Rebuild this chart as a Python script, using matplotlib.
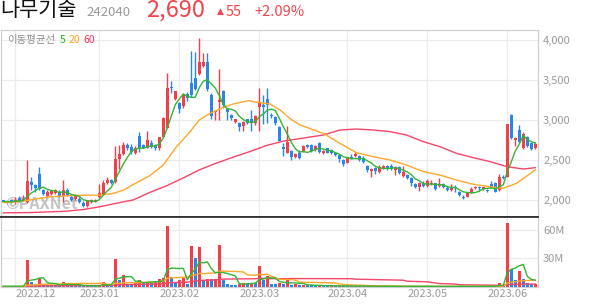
import numpy as np
import pandas as pd
import matplotlib
matplotlib.use("Agg")
import matplotlib.pyplot as plt

plt.rcParams['font.family'] = ['Noto Sans CJK KR', 'DejaVu Sans']

# ---------------- data ----------------
holidays = ['2022-12-30', '2023-01-23', '2023-01-24', '2023-03-01',
            '2023-05-01', '2023-05-05', '2023-05-29', '2023-06-06']
all_days = pd.bdate_range('2022-11-28', '2023-06-13')
dates = all_days[~all_days.isin(pd.to_datetime(holidays))]

opens = [1990, 1960, 2000, 1975, 2025, 1992, 1971, 2221, 2179, 2325,
         2125, 2046, 2067, 2083, 2100, 2042, 2117, 2033, 2012, 2012,
         1962, 1917, 1971, 1975, 2033, 2075, 2208, 2242, 2221, 2512,
         2567, 2679, 2658, 2583, 2792, 2679, 2650, 2710, 2681, 2640,
         2785, 2898, 3410, 3256, 3202, 3169, 3315, 3452, 3515, 3565,
         3673, 3719, 3306, 3090, 3215, 3355, 3127, 3056, 2973, 2952,
         2919, 3002, 3010, 2960, 3152, 3185, 3256, 3060, 3027, 2908,
         2652, 2585, 2602, 2535, 2581, 2598, 2681, 2681, 2619, 2710,
         2577, 2640, 2619, 2585, 2556, 2494, 2460, 2535, 2544, 2544,
         2523, 2423, 2360, 2398, 2348, 2390, 2423, 2423, 2369, 2410,
         2294, 2306, 2265, 2194, 2160, 2210, 2173, 2190, 2202, 2173,
         2190, 2148, 2119, 2160, 2098, 2035, 2035, 2085, 2140, 2160,
         2127, 2119, 2190, 2210, 2119, 2285, 2285, 3056, 2744, 2869,
         2640, 2777, 2702, 2640]
highs = [1995, 1978, 2005, 2033, 2045, 2054, 2500, 2283, 2200, 2408,
         2137, 2117, 2125, 2130, 2117, 2242, 2150, 2054, 2075, 2033,
         1983, 2000, 2008, 2012, 2200, 2242, 2283, 2262, 2667, 2679,
         2721, 2708, 2692, 2667, 2846, 2700, 2858, 2744, 2700, 2785,
         3027, 3577, 3485, 3360, 3223, 3327, 3348, 3856, 3848, 4015,
         3827, 3827, 3327, 3119, 3627, 3369, 3140, 3069, 3010, 2973,
         2985, 3010, 3115, 3056, 3390, 3306, 3390, 3080, 3044, 2917,
         2702, 2919, 2623, 2583, 2623, 2680, 2700, 2694, 2680, 2723,
         2625, 2648, 2630, 2598, 2569, 2502, 2535, 2569, 2598, 2556,
         2544, 2431, 2390, 2410, 2431, 2431, 2431, 2440, 2419, 2423,
         2419, 2319, 2285, 2210, 2223, 2231, 2252, 2244, 2210, 2265,
         2202, 2169, 2194, 2181, 2106, 2056, 2085, 2152, 2173, 2169,
         2160, 2127, 2231, 2223, 2319, 2306, 2944, 3069, 2785, 2931,
         2840, 2794, 2710, 2723]
lows = [1970, 1955, 1960, 1950, 1970, 1983, 1958, 2125, 2096, 2117,
        2054, 2033, 2054, 2075, 2033, 1971, 2042, 1983, 1992, 1958,
        1908, 1908, 1962, 1967, 2025, 2067, 2200, 2200, 2208, 2387,
        2554, 2617, 2567, 2567, 2596, 2638, 2638, 2640, 2620, 2619,
        2777, 2898, 3327, 3240, 3077, 3140, 3235, 3285, 3369, 3556,
        3660, 3360, 3002, 2994, 2994, 3148, 2994, 2994, 2960, 2862,
        2862, 2948, 2862, 2931, 2860, 2944, 2960, 3020, 2931, 2729,
        2546, 2577, 2494, 2515, 2506, 2590, 2650, 2598, 2610, 2585,
        2570, 2577, 2575, 2546, 2473, 2423, 2452, 2502, 2527, 2481,
        2460, 2348, 2285, 2319, 2335, 2381, 2369, 2369, 2306, 2319,
        2285, 2252, 2173, 2140, 2110, 2160, 2160, 2181, 2119, 2160,
        2140, 2106, 2106, 2098, 2048, 2006, 2027, 2077, 2127, 2110,
        2119, 2098, 2140, 2090, 2110, 2256, 2277, 2756, 2669, 2710,
        2627, 2652, 2623, 2631]
closes = [1975, 1972, 1967, 2000, 1983, 2012, 2229, 2179, 2150, 2137,
          2075, 2096, 2108, 2117, 2042, 2117, 2054, 1992, 2054, 1971,
          1917, 1983, 2000, 2000, 2087, 2208, 2242, 2212, 2512, 2567,
          2679, 2650, 2596, 2650, 2650, 2650, 2742, 2660, 2640, 2777,
          3015, 3390, 3390, 3356, 3131, 3319, 3265, 3306, 3377, 3723,
          3715, 3377, 3044, 3106, 3244, 3177, 3098, 3015, 3002, 2910,
          2973, 2960, 2969, 3044, 3223, 3156, 3185, 3040, 2960, 2737,
          2627, 2723, 2527, 2567, 2519, 2669, 2660, 2610, 2669, 2598,
          2610, 2585, 2585, 2556, 2502, 2444, 2527, 2515, 2569, 2494,
          2473, 2369, 2377, 2360, 2410, 2423, 2377, 2377, 2410, 2327,
          2348, 2265, 2202, 2152, 2202, 2173, 2235, 2202, 2131, 2194,
          2152, 2119, 2148, 2140, 2056, 2015, 2077, 2127, 2160, 2148,
          2152, 2106, 2160, 2098, 2285, 2265, 2944, 2765, 2773, 2715,
          2819, 2669, 2635, 2690]
volumes_m = [0.6, 0.4, 0.5, 0.7, 0.5, 0.6, 28.2, 5.3, 2.8, 8.8,
             2.5, 2.0, 1.8, 1.6, 1.4, 5.3, 1.8, 1.5, 1.3, 1.1,
             0.9, 1.0, 0.8, 0.7, 1.6, 5.3, 1.8, 1.5, 29.3, 7.0,
             12.4, 2.8, 2.6, 4.5, 7.0, 4.2, 5.0, 3.5, 6.4, 8.1,
             9.5, 64.0, 10.6, 5.3, 7.0, 10.6, 2.8, 43.0, 30.7, 42.4,
             7.5, 8.1, 7.9, 8.3, 44.0, 7.0, 2.8, 1.8, 1.7, 2.8,
             4.2, 3.9, 4.3, 3.5, 21.9, 7.0, 11.3, 2.8, 2.6, 4.2,
             2.8, 8.8, 1.8, 2.8, 1.8, 1.9, 1.4, 1.3, 1.1, 1.4,
             0.9, 0.8, 1.0, 0.7, 0.9, 0.8, 0.6, 0.7, 0.5, 0.6,
             0.5, 0.7, 0.5, 0.4, 0.5, 0.4, 0.3, 0.4, 0.5, 0.4,
             0.5, 0.3, 0.5, 0.4, 0.5, 0.3, 0.4, 0.3, 0.4, 0.3,
             0.3, 0.4, 0.3, 0.3, 0.4, 0.5, 0.4, 0.6, 0.4, 0.3,
             0.3, 0.4, 0.6, 0.8, 4.2, 1.0, 67.8, 18.7, 7.1, 16.6,
             8.1, 4.2, 2.8, 2.9]

# moving averages (index of trading day, price)
ma20_idx = [0, 3.3, 7.5, 11.7, 15.8, 20, 24.2, 27.5, 30, 32.5, 36.7, 40, 43,
            46.7, 49, 51.7, 55, 57.5, 61.3, 64.2, 66.7, 69.2, 71.7, 74.2, 80,
            84.2, 88.3, 92.5, 96.7, 100.8, 105, 109.2, 113.3, 117.5, 121.7,
            125, 128.3, 133]
ma20_val = [1962, 1970, 2000, 2033, 2046, 2054, 2054, 2075, 2117, 2187, 2300,
            2431, 2640, 2848, 2994, 3077, 3152, 3194, 3235, 3210, 3194, 3119,
            3010, 2931, 2827, 2702, 2585, 2535, 2494, 2431, 2348, 2306, 2244,
            2190, 2160, 2140, 2202, 2369]
ma60_idx = [0, 7.5, 15.8, 20, 24, 28, 32.5, 36.7, 41, 45, 49, 53, 57.5, 61.7,
            65.8, 70, 74.2, 80, 84.2, 88.3, 92.5, 96.7, 100.8, 105, 109.2,
            113.3, 117.5, 121.7, 126, 130, 133]
ma60_val = [1833, 1838, 1854, 1875, 1908, 1950, 1995, 2090, 2175, 2270, 2370,
            2450, 2530, 2600, 2675, 2730, 2762, 2806, 2869, 2881, 2869, 2848,
            2806, 2723, 2660, 2577, 2523, 2473, 2410, 2381, 2398]

price_ticks = [2000, 2500, 3000, 3500, 4000]
vol_ticks = [30, 60]

title_name = "나무기술"
title_code = "242040"
title_price = "2,690"
title_change = "55"
title_pct = "+2.09%"

# ---------------- styling ----------------
W, H = 594, 304
UP = '#f2404b'
DOWN = '#2a86e6'
C5 = '#33b533'
C20 = '#ffa72a'
C60 = '#f5456a'
GRID = '#ececec'
LABEL = '#9a9a9a'

fig = plt.figure(figsize=(W / 100, H / 100), dpi=100)


def fx(x):
    return x / W


def fy(y):
    return 1 - y / H


ax = fig.add_axes([fx(1), fy(217.3), (537.5 - 1) / W, (217.3 - 30) / H])
axv = fig.add_axes([fx(1), fy(286.7), (537.5 - 1) / W, (286.7 - 217.3) / H])

n = len(closes)
x = np.arange(n)
o = np.array(opens, float)
c = np.array(closes, float)
hi = np.array(highs, float)
lo = np.array(lows, float)
up = c >= o
cols = np.where(up, UP, DOWN)

# month start positions
month_pos, month_lab = [], []
for i in range(1, n):
    if dates[i].month != dates[i - 1].month:
        month_pos.append(i)
        month_lab.append(dates[i].strftime('%Y.%m'))

xlim = (-0.575, n - 0.45)

# ---- price panel ----
ax.vlines(x, lo, hi, colors=cols, linewidth=1.0, zorder=3)
body = np.maximum(np.abs(c - o), 10)
ax.bar(x, body, bottom=np.minimum(o, c), width=0.74, color=cols,
       linewidth=0, zorder=4)

ma5 = pd.Series(c).rolling(5, min_periods=1).mean()
ax.plot(ma60_idx, ma60_val, color=C60, lw=1.0, zorder=5)
ax.plot(ma20_idx, ma20_val, color=C20, lw=1.0, zorder=5)
ax.plot(x, ma5, color=C5, lw=1.0, zorder=6)

ax.set_xlim(*xlim)
ax.set_ylim(1777.5, 4118.75)
ax.set_yticks(price_ticks)
ax.set_yticklabels([f"{v:,}" for v in price_ticks])
ax.yaxis.tick_right()
ax.tick_params(axis='y', length=0, pad=4, labelsize=8, labelcolor=LABEL)
ax.set_xticks(month_pos)
ax.tick_params(axis='x', length=0, labelbottom=False)
ax.grid(True, color=GRID, lw=0.9)
ax.set_axisbelow(True)
for s in ['left', 'top', 'right']:
    ax.spines[s].set_color('#d0d0d0')
    ax.spines[s].set_linewidth(0.9)
ax.spines['bottom'].set_color('#333333')
ax.spines['bottom'].set_linewidth(1.3)

# legend
ax.text(0.011, 0.945, "이동평균선", transform=ax.transAxes, fontsize=7.5,
        color='#8c8c8c', va='center', ha='left')
ax.text(0.110, 0.945, "5", transform=ax.transAxes, fontsize=7.5,
        color='#22b522', va='center', ha='left')
ax.text(0.125, 0.945, "20", transform=ax.transAxes, fontsize=7.5,
        color='#ffa31a', va='center', ha='left')
ax.text(0.153, 0.945, "60", transform=ax.transAxes, fontsize=7.5,
        color='#f0305a', va='center', ha='left')

# watermark
ax.text(0.008, 0.07, "©PAXNet", transform=ax.transAxes, fontsize=11.5,
        fontweight='bold', color='#8a8a8a', alpha=0.5, va='center',
        ha='left', zorder=2)

# ---- volume panel ----
v = np.array(volumes_m, float)
vcols = [UP] + [UP if v[i] >= v[i - 1] else DOWN for i in range(1, n)]
axv.bar(x, v, width=0.74, color=vcols, linewidth=0, zorder=3)
vs = pd.Series(v)
axv.plot(x, vs.rolling(60, min_periods=1).sum() / 60, color=C60, lw=1.0, zorder=4)
axv.plot(x, vs.rolling(20, min_periods=1).sum() / 20, color=C20, lw=1.0, zorder=4)
axv.plot(x, vs.rolling(5, min_periods=1).mean(), color=C5, lw=1.0, zorder=5)

axv.set_xlim(*xlim)
axv.set_ylim(0, 73.6)
axv.set_yticks(vol_ticks)
axv.set_yticklabels([f"{t}M" for t in vol_ticks])
axv.yaxis.tick_right()
axv.tick_params(axis='y', length=0, pad=4, labelsize=8, labelcolor=LABEL)
axv.set_xticks(month_pos)
axv.set_xticklabels(month_lab)
axv.tick_params(axis='x', length=0, pad=2, labelsize=8, labelcolor=LABEL)
lbls = axv.get_xticklabels()
lbls[0].set_horizontalalignment('left')
axv.grid(True, color=GRID, lw=0.9)
axv.set_axisbelow(True)
for s in ['left', 'right', 'bottom']:
    axv.spines[s].set_color('#d0d0d0')
    axv.spines[s].set_linewidth(0.9)
axv.spines['top'].set_color('#333333')
axv.spines['top'].set_linewidth(1.3)

fig.canvas.draw()
lbls[0].set_x(xlim[0] + 0.6)

# ---- header ----
fig.text(fx(0), fy(10.5), title_name, fontsize=15, color='#111111',
         va='center', ha='left')
fig.text(fx(86), fy(12), title_code, fontsize=9.5, color='#999999',
         va='center', ha='left')
fig.text(fx(146), fy(10.5), title_price, fontsize=17, color='#f2444d',
         va='center', ha='left')
fig.text(fx(216.5), fy(11), "▲", fontsize=6.5, color='#f2444d',
         va='center', ha='left', family=['DejaVu Sans'])
fig.text(fx(226), fy(11.5), title_change, fontsize=10.5, color='#f2444d',
         va='center', ha='left')
fig.text(fx(254), fy(11.5), title_pct, fontsize=10.5, color='#f2444d',
         va='center', ha='left')

fig.savefig('out.png', dpi=100, facecolor='white')
